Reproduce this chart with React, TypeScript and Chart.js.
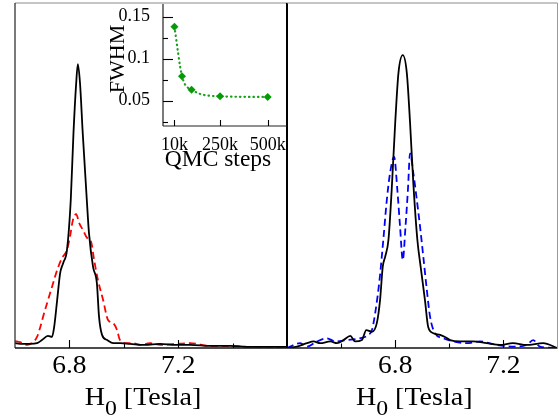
import React, { useEffect, useRef } from 'react';
import { Chart, registerables } from 'chart.js';

Chart.register(...registerables);

// ---------------- data ----------------
// Left panel: field values (Tesla) and normalised intensity
const leftBlackX = [6.600, 6.618, 6.655, 6.681, 6.699, 6.721, 6.736, 6.744, 6.755, 6.766, 6.777, 6.791, 6.805, 6.815, 6.825, 6.831, 6.839, 6.849, 6.864, 6.872, 6.887, 6.901, 6.909, 6.920, 6.939, 6.961, 6.987, 7.023, 7.078, 7.133, 7.189, 7.244, 7.318, 7.391, 7.465, 7.539, 7.600];
const leftBlackY = [0.014, 0.012, 0.012, 0.014, 0.023, 0.035, 0.032, 0.061, 0.139, 0.217, 0.246, 0.284, 0.429, 0.623, 0.768, 0.823, 0.768, 0.623, 0.429, 0.333, 0.235, 0.188, 0.090, 0.038, 0.023, 0.014, 0.014, 0.012, 0.009, 0.012, 0.009, 0.009, 0.006, 0.006, 0.003, 0.003, 0.003];

const leftRedX = [6.600, 6.618, 6.644, 6.666, 6.681, 6.692, 6.703, 6.718, 6.736, 6.755, 6.773, 6.791, 6.802, 6.813, 6.825, 6.836, 6.850, 6.865, 6.880, 6.891, 6.905, 6.924, 6.942, 6.961, 6.975, 6.986, 7.012, 7.034, 7.060, 7.097, 7.134, 7.189, 7.244, 7.318, 7.391, 7.465, 7.539, 7.600];
const leftRedY = [0.020, 0.017, 0.009, 0.017, 0.032, 0.058, 0.090, 0.130, 0.177, 0.226, 0.261, 0.284, 0.322, 0.371, 0.388, 0.362, 0.342, 0.319, 0.307, 0.255, 0.197, 0.139, 0.081, 0.072, 0.052, 0.023, 0.014, 0.014, 0.009, 0.014, 0.009, 0.012, 0.014, 0.006, 0.006, 0.003, 0.003, 0.000];

// Right panel
const rightBlackX = [6.400, 6.437, 6.474, 6.498, 6.523, 6.560, 6.585, 6.609, 6.634, 6.652, 6.677, 6.693, 6.714, 6.732, 6.744, 6.754, 6.763, 6.775, 6.787, 6.800, 6.812, 6.828, 6.843, 6.855, 6.867, 6.882, 6.894, 6.910, 6.922, 6.941, 6.966, 6.984, 7.003, 7.039, 7.087, 7.138, 7.187, 7.235, 7.286, 7.347, 7.399];
const rightBlackY = [0.000, 0.004, 0.014, 0.019, 0.014, 0.019, 0.014, 0.023, 0.035, 0.019, 0.023, 0.052, 0.047, 0.072, 0.139, 0.236, 0.265, 0.313, 0.458, 0.652, 0.797, 0.849, 0.797, 0.652, 0.478, 0.313, 0.236, 0.139, 0.061, 0.043, 0.038, 0.032, 0.023, 0.019, 0.019, 0.014, 0.009, 0.014, 0.009, 0.014, 0.000];

const rightBlueX = [6.400, 6.449, 6.474, 6.511, 6.548, 6.578, 6.621, 6.670, 6.701, 6.714, 6.726, 6.742, 6.756, 6.769, 6.781, 6.796, 6.808, 6.818, 6.828, 6.838, 6.847, 6.855, 6.867, 6.880, 6.892, 6.904, 6.917, 6.929, 6.947, 6.978, 7.015, 7.064, 7.113, 7.175, 7.236, 7.286, 7.310, 7.335, 7.399];
const rightBlueY = [0.000, 0.014, 0.004, 0.019, 0.028, 0.019, 0.023, 0.028, 0.038, 0.052, 0.101, 0.197, 0.313, 0.429, 0.507, 0.554, 0.458, 0.351, 0.255, 0.351, 0.458, 0.564, 0.507, 0.429, 0.351, 0.264, 0.168, 0.090, 0.043, 0.028, 0.019, 0.014, 0.019, 0.009, 0.004, 0.009, 0.023, 0.004, 0.000];

// Inset: FWHM vs QMC steps (in thousands)
const insetSteps = [10, 50, 100, 250, 500];
const insetFwhm = [0.138, 0.0792, 0.0632, 0.0553, 0.0545];

// Tick values
const mainLabelTicks = [6.8, 7.2];
const leftMinorTicks = [7.0, 7.4];
const rightMinorTicks = [6.6, 7.0];
const insetXTicks = [10, 250, 500];
const insetYTicks = [0.05, 0.1, 0.15];
const insetYMinor = [0.025, 0.075, 0.125];

const SERIF = '"Liberation Serif", "Times New Roman", serif';

const pts = (xs: number[], ys: number[]) => xs.map((x, i) => ({ x, y: ys[i] }));

type Side = { side: 'top' | 'bottom' | 'left' | 'right'; color: string; width: number };

const framePlugin = (sides: Side[]) => ({
  id: 'frame',
  afterDatasetsDraw(chart: any) {
    const { ctx, chartArea: a } = chart;
    ctx.save();
    for (const s of sides) {
      ctx.strokeStyle = s.color;
      ctx.lineWidth = s.width;
      ctx.beginPath();
      if (s.side === 'top') { ctx.moveTo(a.left, a.top); ctx.lineTo(a.right, a.top); }
      if (s.side === 'bottom') { ctx.moveTo(a.left, a.bottom); ctx.lineTo(a.right, a.bottom); }
      if (s.side === 'left') { ctx.moveTo(a.left, a.top); ctx.lineTo(a.left, a.bottom); }
      if (s.side === 'right') { ctx.moveTo(a.right, a.top); ctx.lineTo(a.right, a.bottom); }
      ctx.stroke();
    }
    ctx.restore();
  },
});

type TickSet = { axis: 'x' | 'y'; values: number[]; len: number };

const innerTicksPlugin = (sets: TickSet[]) => ({
  id: 'innerTicks',
  afterDatasetsDraw(chart: any) {
    const { ctx, chartArea: a } = chart;
    ctx.save();
    ctx.strokeStyle = '#000';
    ctx.lineWidth = 1.1;
    for (const t of sets) {
      const scale = chart.scales[t.axis];
      for (const v of t.values) {
        const p = Math.round(scale.getPixelForValue(v)) + 0.5;
        ctx.beginPath();
        if (t.axis === 'x') { ctx.moveTo(p, a.bottom); ctx.lineTo(p, a.bottom - t.len); }
        else { ctx.moveTo(a.left, p); ctx.lineTo(a.left + t.len, p); }
        ctx.stroke();
      }
    }
    ctx.restore();
  },
});

// text drawn slightly widened, as in the reference figure
const drawText = (ctx: any, text: string, x: number, y: number, size: number, sx: number, align: string) => {
  ctx.save();
  ctx.font = `${size}px ${SERIF}`;
  ctx.fillStyle = '#000';
  ctx.textBaseline = 'alphabetic';
  ctx.textAlign = align;
  ctx.translate(x, y);
  ctx.scale(sx, 1);
  ctx.fillText(text, 0, 0);
  ctx.restore();
};

const measure = (ctx: any, text: string, size: number) => {
  ctx.save();
  ctx.font = `${size}px ${SERIF}`;
  const w = ctx.measureText(text).width;
  ctx.restore();
  return w;
};

// main x-axis tick labels, placed through the x scale
const mainLabelsPlugin = (baseline: number, size: number, sx: number) => ({
  id: 'mainLabels',
  afterDraw(chart: any) {
    const { ctx } = chart;
    const scale = chart.scales.x;
    for (const v of mainLabelTicks) {
      drawText(ctx, v.toFixed(1), scale.getPixelForValue(v), baseline, size, sx, 'center');
    }
  },
});

// x-axis title with a subscript: H_0 [Tesla]
const hTitlePlugin = (shift: number, baseline: number, size: number, sx: number) => ({
  id: 'hTitle',
  afterDraw(chart: any) {
    const { ctx, chartArea: a } = chart;
    const subSize = Math.round(size * 0.85);
    const wH = measure(ctx, 'H', size) * sx;
    const w0 = measure(ctx, '0', subSize) * sx;
    const wRest = measure(ctx, ' [Tesla]', size) * sx;
    let x = (a.left + a.right) / 2 + shift - (wH + w0 + wRest) / 2;
    drawText(ctx, 'H', x, baseline, size, sx, 'left');
    x += wH;
    drawText(ctx, '0', x, baseline + 10, subSize, sx, 'left');
    x += w0;
    drawText(ctx, ' [Tesla]', x, baseline, size, sx, 'left');
  },
});

// inset axis titles
const insetTitlesPlugin = {
  id: 'insetTitles',
  afterDraw(chart: any) {
    const { ctx } = chart;
    // y title, rotated
    ctx.save();
    ctx.translate(18, 59);
    ctx.rotate(-Math.PI / 2);
    ctx.fillStyle = '#000';
    ctx.font = `22px ${SERIF}`;
    ctx.textAlign = 'center';
    ctx.textBaseline = 'middle';
    ctx.fillText('FWHM', 0, 0);
    ctx.restore();
    // x title
    ctx.save();
    ctx.fillStyle = '#000';
    ctx.font = `23.5px ${SERIF}`;
    ctx.textAlign = 'center';
    ctx.textBaseline = 'middle';
    ctx.fillText('QMC steps', 118, 160);
    ctx.restore();
  },
};

const lineDs = (data: any[], color: string, dash: number[]) => ({
  data,
  borderColor: color,
  backgroundColor: color,
  borderWidth: 1.8,
  borderDash: dash,
  pointRadius: 0,
  fill: false,
  cubicInterpolationMode: 'monotone' as const,
});

const mainConfig = (
  datasets: any[],
  min: number,
  max: number,
  minor: number[],
  padding: any,
  sides: Side[]
): any => ({
  type: 'line',
  data: { datasets },
  options: {
    animation: false,
    responsive: false,
    events: [],
    layout: { padding },
    plugins: { legend: { display: false }, tooltip: { enabled: false } },
    scales: {
      x: {
        type: 'linear',
        min,
        max,
        afterBuildTicks: (s: any) => { s.ticks = mainLabelTicks.map((v) => ({ value: v })); },
        afterFit: (s: any) => { s.height = 70; s.paddingLeft = 0; s.paddingRight = 0; },
        ticks: { display: false },
        grid: { display: false },
        border: { display: false },
      },
      y: { type: 'linear', min: 0, max: 1, display: false },
    },
  },
  plugins: [
    framePlugin(sides),
    innerTicksPlugin([
      { axis: 'x', values: mainLabelTicks, len: 8 },
      { axis: 'x', values: minor, len: 4.5 },
    ]),
    mainLabelsPlugin(373, 25, 1.1),
    hTitlePlugin(-8, 405, 26, 1.08),
  ],
});

const insetConfig = (): any => ({
  type: 'line',
  data: {
    datasets: [
      {
        data: pts(insetSteps, insetFwhm),
        borderColor: '#1aa01a',
        backgroundColor: '#079a07',
        borderWidth: 2.2,
        borderDash: [0.5, 4],
        borderCapStyle: 'round',
        pointStyle: 'rectRot',
        pointRadius: 4,
        pointBorderWidth: 0,
        fill: false,
        cubicInterpolationMode: 'monotone',
      },
    ],
  },
  options: {
    animation: false,
    responsive: false,
    events: [],
    layout: { padding: { top: 3, right: 8.3, left: 0, bottom: 0 } },
    plugins: { legend: { display: false }, tooltip: { enabled: false } },
    scales: {
      x: {
        type: 'linear',
        min: -50,
        max: 600,
        afterBuildTicks: (s: any) => { s.ticks = insetXTicks.map((v) => ({ value: v })); },
        afterFit: (s: any) => { s.height = 54; s.paddingLeft = 0; s.paddingRight = 0; },
        ticks: {
          font: { family: SERIF, size: 18 },
          color: '#000',
          padding: 0.7,
          maxRotation: 0,
          callback: (v: any) => `${v}k`,
        },
        grid: { display: false },
        border: { display: false },
      },
      y: {
        type: 'linear',
        min: 0.02,
        max: 0.165,
        afterBuildTicks: (s: any) => { s.ticks = insetYTicks.map((v) => ({ value: v })); },
        afterFit: (s: any) => { s.width = 63; s.paddingTop = 0; s.paddingBottom = 0; },
        ticks: {
          font: { family: SERIF, size: 18 },
          color: '#000',
          padding: 5,
          callback: (v: any) => (Math.abs(v - 0.1) < 1e-9 ? '0.1' : Number(v).toFixed(2)),
        },
        grid: { display: false },
        border: { display: false },
      },
    },
  },
  plugins: [
    framePlugin([
      { side: 'left', color: '#222', width: 1.2 },
      { side: 'bottom', color: '#222', width: 1.2 },
    ]),
    innerTicksPlugin([
      { axis: 'y', values: insetYTicks, len: 10 },
      { axis: 'y', values: insetYMinor, len: 5 },
      { axis: 'x', values: insetXTicks, len: 6 },
    ]),
    insetTitlesPlugin,
  ],
});

export default function App() {
  const leftRef = useRef<HTMLCanvasElement>(null);
  const rightRef = useRef<HTMLCanvasElement>(null);
  const insetRef = useRef<HTMLCanvasElement>(null);

  useEffect(() => {
    const left = new Chart(
      leftRef.current!,
      mainConfig(
        [
          lineDs(pts(leftBlackX, leftBlackY), '#000000', []),
          lineDs(pts(leftRedX, leftRedY), '#ff0000', [7, 4]),
        ],
        6.6,
        7.6,
        leftMinorTicks,
        { left: 15, right: 5, top: 3, bottom: 0 },
        [
          { side: 'top', color: '#8a8a8a', width: 1 },
          { side: 'left', color: '#333', width: 1.3 },
          { side: 'bottom', color: '#111', width: 1.4 },
          { side: 'right', color: '#000', width: 2 },
        ]
      )
    );
    const right = new Chart(
      rightRef.current!,
      mainConfig(
        [
          lineDs(pts(rightBlackX, rightBlackY), '#000000', []),
          lineDs(pts(rightBlueX, rightBlueY), '#0000ff', [7, 4]),
        ],
        6.4,
        7.4,
        rightMinorTicks,
        { left: 0, right: 1.5, top: 3, bottom: 0 },
        [
          { side: 'top', color: '#8a8a8a', width: 1 },
          { side: 'bottom', color: '#111', width: 1.4 },
          { side: 'right', color: '#9a9a9a', width: 1 },
        ]
      )
    );
    const inset = new Chart(insetRef.current!, insetConfig());
    return () => {
      left.destroy();
      right.destroy();
      inset.destroy();
    };
  }, []);

  return (
    <div
      style={{
        position: 'fixed',
        left: 0,
        top: 0,
        width: 559,
        height: 418,
        background: '#fff',
        overflow: 'hidden',
      }}
    >
      <canvas ref={leftRef} width={292} height={418} style={{ position: 'absolute', left: 0, top: 0 }} />
      <canvas ref={rightRef} width={272} height={418} style={{ position: 'absolute', left: 287, top: 0 }} />
      <canvas ref={insetRef} width={195} height={180} style={{ position: 'absolute', left: 100, top: 0 }} />
    </div>
  );
}
